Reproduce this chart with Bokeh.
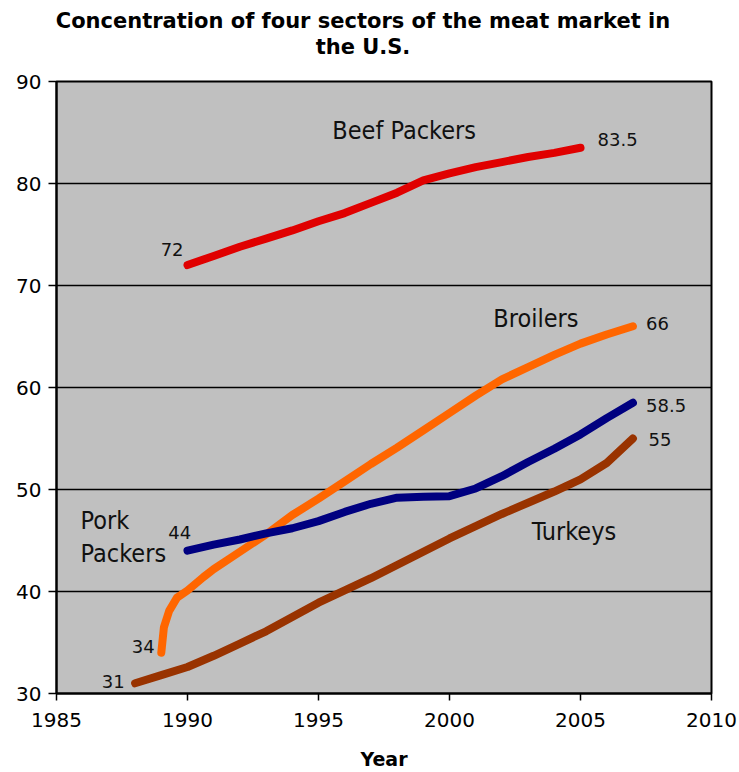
from bokeh.plotting import figure
from bokeh.models import Range1d, FixedTicker, ColumnDataSource, Div
from bokeh.layouts import column
from bokeh.core.properties import value
from bokeh.embed import file_html
from bokeh.resources import INLINE

# Four-firm concentration ratio (%) by sector and year
beef_years = [1990, 1991, 1992, 1993, 1994, 1995, 1996, 1997, 1998, 1999,
              2000, 2001, 2002, 2003, 2004, 2005]
beef_share = [72.0, 72.9, 73.8, 74.6, 75.4, 76.3, 77.1, 78.1, 79.1, 80.3,
              81.0, 81.6, 82.1, 82.6, 83.0, 83.5]

broiler_years = [1989, 1989.1, 1989.3, 1989.6, 1990, 1990.6, 1991, 1992, 1993,
                 1994, 1995, 1996, 1997, 1998, 1999, 2000, 2001, 2002, 2003,
                 2004, 2005, 2006, 2007]
broiler_share = [34.0, 36.5, 38.1, 39.4, 40.1, 41.4, 42.2, 43.9, 45.6,
                 47.5, 49.1, 50.8, 52.5, 54.1, 55.8, 57.5, 59.2, 60.8, 62.0,
                 63.2, 64.3, 65.2, 66.0]

pork_years = [1990, 1991, 1992, 1993, 1994, 1995, 1996, 1997, 1998, 1999,
              2000, 2001, 2002, 2003, 2004, 2005, 2006, 2007]
pork_share = [44.0, 44.6, 45.1, 45.7, 46.2, 46.9, 47.8, 48.6, 49.2, 49.3,
              49.35, 50.1, 51.3, 52.7, 54.0, 55.4, 57.0, 58.5]

turkey_years = [1988, 1989, 1990, 1991, 1992, 1993, 1994, 1995, 1996, 1997,
                1998, 1999, 2000, 2001, 2002, 2003, 2004, 2005, 2006, 2007]
turkey_share = [31.0, 31.8, 32.6, 33.7, 34.9, 36.1, 37.5, 38.9, 40.1, 41.3,
                42.6, 43.9, 45.2, 46.4, 47.6, 48.7, 49.8, 51.0, 52.6, 55.0]

x_ticks = [1985, 1990, 1995, 2000, 2005, 2010]
y_ticks = [30, 40, 50, 60, 70, 80, 90]

title_lines = ["Concentration of four sectors of the meat market in", "the U.S."]

series = [
    ("Beef Packers", beef_years, beef_share, "#E00000"),
    ("Broilers", broiler_years, broiler_share, "#FF6600"),
    ("Pork Packers", pork_years, pork_share, "#000080"),
    ("Turkeys", turkey_years, turkey_share, "#993300"),
]

# two-line centred heading above the chart
heading = Div(
    text=('<div style="width:726px;padding-top:8px;text-align:center;'
          'color:black;font-family:\'DejaVu Sans\';font-weight:bold;'
          'font-size:21px;line-height:26px;white-space:nowrap">'
          + "<br>".join(title_lines) + "</div>"),
    width=726, height=60, margin=(0, 0, 0, 0))

p = figure(width=739, height=712,
           x_range=Range1d(1985, 2010), y_range=Range1d(30, 90),
           output_backend="svg", toolbar_location=None,
           min_border_left=56, min_border_right=28,
           min_border_top=21, min_border_bottom=79, margin=(0, 0, 0, 0))

p.border_fill_color = "white"
p.background_fill_color = "#C0C0C0"
p.outline_line_color = "black"
p.outline_line_width = 2

# axes
for ax in (p.xaxis[0], p.yaxis[0]):
    ax.axis_line_color = "black"
    ax.axis_line_width = 2
    ax.major_tick_line_color = "black"
    ax.major_tick_line_width = 1.5
    ax.major_tick_in = 0
    ax.minor_tick_line_color = None
    ax.major_label_text_font = "DejaVu Sans"
    ax.major_label_text_font_size = "20px"
    ax.major_label_text_color = "black"

p.xaxis.ticker = FixedTicker(ticks=x_ticks)
p.yaxis.ticker = FixedTicker(ticks=y_ticks)
p.xaxis.major_tick_out = 7
p.yaxis.major_tick_out = 8
p.xaxis.major_label_standoff = 12
p.yaxis.major_label_standoff = 7

p.xaxis.axis_label = "Year"
p.xaxis.axis_label_text_font = "DejaVu Sans"
p.xaxis.axis_label_text_font_style = "bold"
p.xaxis.axis_label_text_font_size = "19px"
p.xaxis.axis_label_text_color = "black"
p.xaxis.axis_label_standoff = 18

p.xgrid.grid_line_color = None
p.ygrid.grid_line_color = "black"
p.ygrid.grid_line_width = 1.5
p.ygrid.grid_line_alpha = 1.0

for name, xs, ys, color in series:
    src = ColumnDataSource(data=dict(x=xs, y=ys))
    p.line("x", "y", source=src, line_color=color, line_width=8,
           line_cap="round", line_join="round")

# end-point values, left/right of each series
end_labels = ColumnDataSource(data=dict(
    x=[1990.0 - 0.15, 1990.0 - 0.3, 1989.0 - 0.25, 1988.0 - 0.4,
       2005.0 + 0.65, 2007.0 + 0.5, 2007.0 + 0.5, 2007.0 + 0.6],
    y=[beef_share[0] + 1.5, pork_share[0] + 1.8, broiler_share[0] + 0.65,
       turkey_share[0] + 0.2, beef_share[-1] + 0.8, broiler_share[-1] + 0.3,
       pork_share[-1] - 0.3, turkey_share[-1] - 0.1],
    t=["72", "44", "34", "31", "83.5", "66", "58.5", "55"],
    a=["right", "center", "right", "right", "left", "left", "left", "left"],
))
p.text("x", "y", text="t", source=end_labels, text_align="a",
       text_baseline="middle", text_font=value("DejaVu Sans"),
       text_font_size="18px", text_color="#111111")

# sector names
name_labels = ColumnDataSource(data=dict(
    x=[1998.27, 2003.3, 2004.75, 1985.92, 1985.92],
    y=[85.2, 66.8, 45.9, 47.0, 43.7],
    t=["Beef Packers", "Broilers", "Turkeys", "Pork", "Packers"],
    a=["center", "center", "center", "left", "left"],
))
p.text("x", "y", text="t", source=name_labels, text_align="a",
       text_baseline="middle", text_font=value("DejaVu Sans Condensed"),
       text_font_size="25px", text_color="#111111")

layout = column(heading, p, spacing=0, margin=(0, 0, 0, 0))
open("out.html", "w").write(file_html(layout, INLINE))
